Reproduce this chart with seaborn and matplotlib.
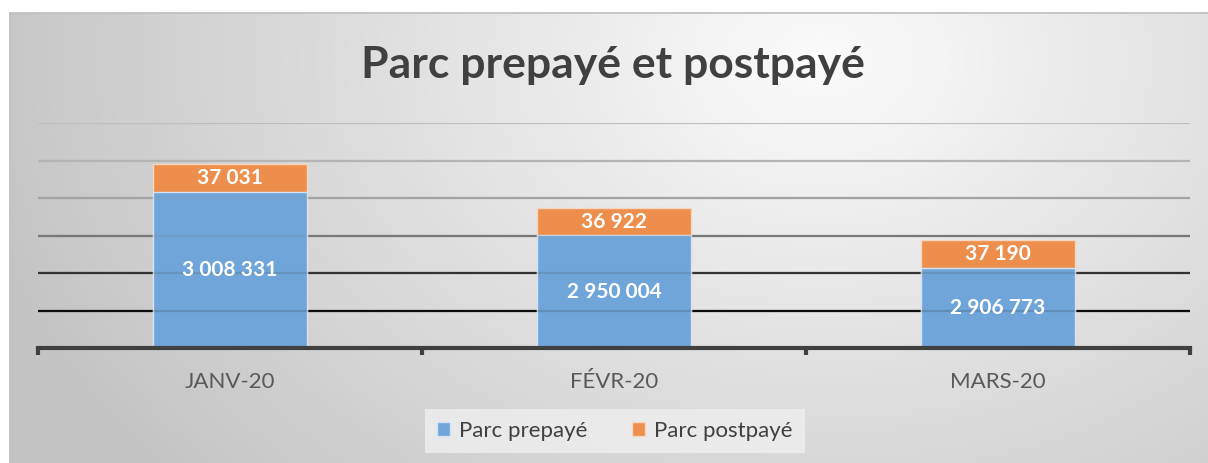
import numpy as np
import pandas as pd
import matplotlib.pyplot as plt
from matplotlib.patches import Rectangle, Patch
import seaborn as sns

# data
mois = ["JANV-20", "FÉVR-20", "MARS-20"]
prepaye = [3008331, 2950004, 2906773]
postpaye = [37031, 36922, 37190]

sns.set_theme(style="white")
plt.rcParams['font.family'] = ['Lato', 'DejaVu Sans']

df = pd.DataFrame({"mois": mois, "prepaye": prepaye, "postpaye": postpaye})
df["total"] = df["prepaye"] + df["postpaye"]

BLUE = "#6FA5D8"
ORANGE = "#EE8E4C"

W, H = 1208, 463
fig = plt.figure(figsize=(W / 100, H / 100), dpi=100)
fig.patch.set_facecolor("white")

# background radial gradient
bg = fig.add_axes([0, 0, 1, 1], zorder=-10)
yy, xx = np.mgrid[0:H, 0:W]
d = np.sqrt(((xx - 820) / 760.0) ** 2 + ((yy - 60) / 560.0) ** 2)
val = 0.985 - 0.19 * np.clip(d, 0, 1.2) / 1.0
val = np.clip(val, 0.77, 1)
bg.imshow(np.dstack([val, val, val]), extent=[0, W, H, 0], aspect="auto")
bg.add_patch(Rectangle((0, 0), W, 12, color="white"))
bg.add_patch(Rectangle((0, 0), 9, H, color="white"))
bg.plot([9.5, W], [12.5, 12.5], color="#bdbdbd", lw=1.2)
bg.plot([9.5, 9.5], [12.5, H], color="#bdbdbd", lw=1.2)
bg.set_xlim(0, W)
bg.set_ylim(H, 0)
bg.axis("off")

ax = fig.add_axes([38 / W, 1 - 348 / H, (1190 - 38) / W, (348 - 123) / H])
ax.patch.set_alpha(0)

sns.barplot(data=df, x="mois", y="total", color=ORANGE, width=0.4,
            saturation=1, ax=ax, edgecolor="#f7d6bf", linewidth=1, zorder=3)
sns.barplot(data=df, x="mois", y="prepaye", color=BLUE, width=0.4,
            saturation=1, ax=ax, edgecolor="#d3e3f3", linewidth=1, zorder=3)

ax.set_ylim(2800000, 3100000)
ax.set_xlim(-0.5, 2.5)

# gridlines darker toward bottom, faintly visible through the bars
grid_vals = [2850000, 2900000, 2950000, 3000000, 3050000, 3100000]
grid_cols = ["#0d0d0d", "#333333", "#787878", "#a3a3a3", "#b4b4b4", "#bebebe"]
for gv, gc in zip(grid_vals, grid_cols):
    ax.axhline(gv, color=gc, lw=1.6, zorder=1)
    ax.axhline(gv, color=gc, lw=1.6, alpha=0.15, zorder=4)

for s in ["top", "right", "left"]:
    ax.spines[s].set_visible(False)
ax.spines["bottom"].set_color("#404040")
ax.spines["bottom"].set_linewidth(3)
ax.spines["bottom"].set_zorder(6)
ax.set_yticks([])
ax.set_xlabel("")
ax.set_ylabel("")
ax.tick_params(axis="x", length=0, labelsize=16, labelcolor="#595959", pad=17)
for xt in [-0.5, 0.5, 1.5, 2.5]:
    ax.plot([xt, xt], [0, -0.03], transform=ax.get_xaxis_transform(),
            color="#404040", lw=3, clip_on=False, solid_capstyle="butt")


def fmt(v):
    return f"{v:,}".replace(",", " ")


for i in range(len(mois)):
    ax.text(i, prepaye[i] - (prepaye[i] - 2800000) / 2, fmt(prepaye[i]),
            ha="center", va="center", color="white", fontsize=15,
            fontweight="bold", zorder=5)
    ax.text(i, prepaye[i] + postpaye[i] / 2, fmt(postpaye[i]),
            ha="center", va="center", color="white", fontsize=15,
            fontweight="bold", zorder=5)

fig.text(613 / W, 1 - 65 / H, "Parc prepayé et postpayé", ha="center",
         va="center", fontsize=32, fontweight="bold", color="#404040")

handles = [Patch(facecolor=BLUE, edgecolor="#d3e3f3"),
           Patch(facecolor=ORANGE, edgecolor="#f7d6bf")]
leg = fig.legend(handles, ["Parc prepayé", "Parc postpayé"], ncol=2,
                 loc="center", bbox_to_anchor=(615 / W, 1 - 431 / H),
                 fontsize=16, frameon=True, handlelength=0.6, handleheight=0.6,
                 handletextpad=0.4, columnspacing=2.0, borderpad=0.55,
                 fancybox=False)
leg.get_frame().set_facecolor("#efefef")
leg.get_frame().set_edgecolor("none")
leg.get_frame().set_alpha(0.8)
for t in leg.get_texts():
    t.set_color("#404040")

fig.savefig("out.png", dpi=100)
